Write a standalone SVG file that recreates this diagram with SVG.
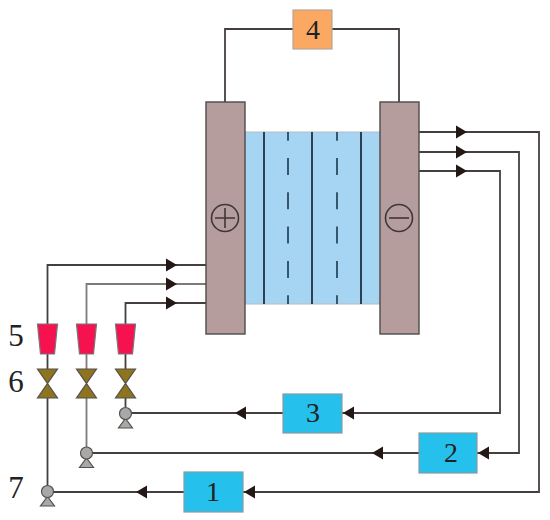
<svg xmlns="http://www.w3.org/2000/svg" width="550" height="520" viewBox="0 0 550 520">
<defs>
<style>
.w{fill:none;stroke:#463f3f;stroke-width:1.8}
.w2{fill:none;stroke:#7d7a78;stroke-width:1.8}
.a{fill:#231815}
.el{fill:#b59d9d;stroke:#4f4a4a;stroke-width:1.4}
.sym{fill:none;stroke:#3f3636;stroke-width:1.6}
.s{stroke:#1f3144;stroke-width:1.8;fill:none}
.d{stroke:#2a4a60;stroke-width:1.8;fill:none;stroke-dasharray:17 17.3}
.box{fill:#25c0ec;stroke:#8a9aa0;stroke-width:1.2}
.t{font-family:"Liberation Serif",serif;font-size:28px;fill:#222;text-anchor:middle}
.l{font-size:31px}
.f{fill:#f5124f;stroke:#77777a;stroke-width:1.2}
.v{fill:#8f7420;stroke:#55514a;stroke-width:1.2}
.p{fill:#a8a8a8;stroke:#55514a;stroke-width:1.2}
</style>
<path id="ar" class="a" d="M0-6.500L11 0L0 6.500Z"/>
<path id="al" class="a" d="M11-6.500L0 0L11 6.500Z"/>
<g id="filt"><path class="f" d="M-10 324H10L7 354H-7Z"/></g>
<g id="valve"><path class="v" d="M-10 369H10L-10 398H10Z"/></g>
<g id="pump"><path class="p" d="M0 5L7 14.500H-7Z"/><circle class="p" r="6"/></g>
</defs>
<rect width="550" height="520" fill="#fff"/>
<g id="connectors">
<path class="w" d="M293 29H225V102M332 29H399V102"/>
<path class="w" d="M47.500 324V265H206M47.500 354V369M47.500 398V486"/>
<path class="w2" d="M86.500 324V284H206M86.500 354V369M86.500 398V447"/>
<path class="w" d="M125.500 324V303H206M125.500 354V369M125.500 398V407"/>
<path class="w" d="M419 132H539V492H243M184 492H53"/>
<path class="w" d="M419 152H519V453H477M419 453H92"/>
<path class="w" d="M419 171H500V413H342M283 413H131"/>
<use href="#ar" x="166" y="265"/><use href="#ar" x="166" y="284"/><use href="#ar" x="166" y="303"/>
<use href="#ar" x="456" y="132"/><use href="#ar" x="456" y="152"/><use href="#ar" x="456" y="171"/>
<use href="#al" x="343" y="413"/><use href="#al" x="235" y="413"/>
<use href="#al" x="478" y="453"/><use href="#al" x="372" y="453"/>
<use href="#al" x="244" y="492"/><use href="#al" x="136" y="492"/>
</g>
<g id="stack">
<rect x="245" y="132" width="135" height="172" fill="#a5d5f2" stroke="#b4bcc4"/>
<path class="s" d="M264 132V304M312 132V304M361 132V304"/>
<path class="d" d="M288 132V304M337 132V304" stroke-dashoffset="8.300"/>
</g>
<g id="anode"><rect class="el" x="206" y="102" width="39" height="232"/><circle class="sym" cx="225" cy="218" r="13.500"/><path class="sym" d="M215 218H235M225 208V228"/></g>
<g id="cathode"><rect class="el" x="380" y="102" width="39" height="232"/><circle class="sym" cx="399" cy="218" r="13.500"/><path class="sym" d="M389 218H409"/></g>
<g id="n4"><rect x="293" y="10" width="39" height="39" fill="#fba862" stroke="#b5a69a" stroke-width="1.200"/><text class="t" x="313" y="39">4</text></g>
<g id="n3"><rect class="box" x="283" y="394" width="59" height="39"/><text class="t" x="313" y="422">3</text></g>
<g id="n2"><rect class="box" x="419" y="433" width="58" height="40"/><text class="t" x="451" y="462">2</text></g>
<g id="n1"><rect class="box" x="184" y="472" width="59" height="40"/><text class="t" x="213" y="501">1</text></g>
<g id="f1"><use href="#filt" x="47.500"/></g><g id="f2"><use href="#filt" x="86.500"/></g><g id="f3"><use href="#filt" x="125.500"/></g>
<g id="v1"><use href="#valve" x="47.500"/></g><g id="v2"><use href="#valve" x="86.500"/></g><g id="v3"><use href="#valve" x="125.500"/></g>
<g id="p1"><use href="#pump" x="47.500" y="491.500"/></g><g id="p2"><use href="#pump" x="86.500" y="453"/></g><g id="p3"><use href="#pump" x="125.500" y="413.500"/></g>
<g id="labels"><text class="t l" x="16" y="346">5</text><text class="t l" x="16" y="392">6</text><text class="t l" x="16" y="498">7</text></g>
</svg>
